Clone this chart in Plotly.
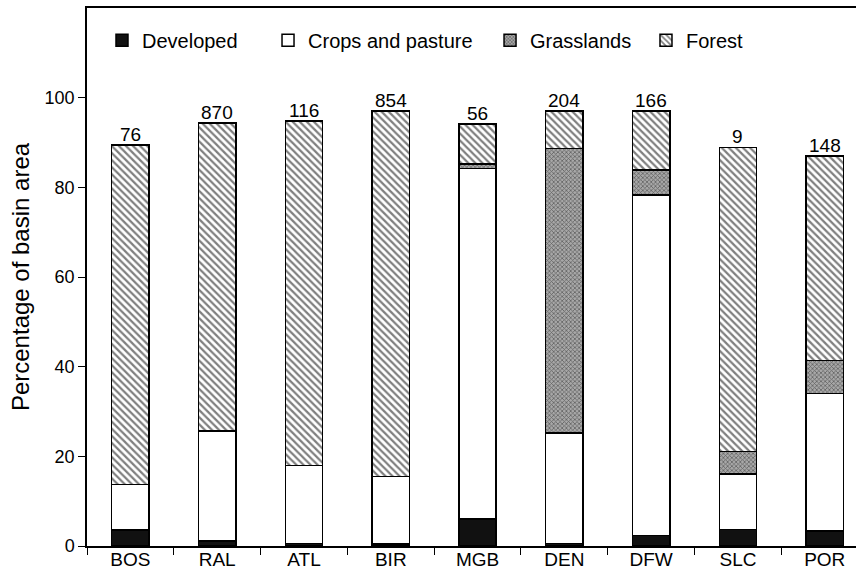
import plotly.graph_objects as go

sites = ["BOS", "RAL", "ATL", "BIR", "MGB", "DEN", "DFW", "SLC", "POR"]
developed = [3.6, 1.1, 0.6, 0.4, 6.0, 0.6, 2.3, 3.7, 3.4]
crops = [10.1, 24.5, 17.4, 15.1, 78.2, 24.6, 76.0, 12.4, 30.6]
grass = [0.0, 0.0, 0.0, 0.0, 1.0, 63.5, 5.6, 5.0, 7.4]
forest = [75.7, 68.8, 76.8, 81.5, 8.9, 8.3, 13.1, 67.8, 45.6]
site_counts = ["76", "870", "116", "854", "56", "204", "166", "9", "148"]

FONT = "Liberation Sans, Arial, sans-serif"
line = dict(color="black", width=1.5)
W = 0.43

fig = go.Figure()
fig.add_trace(go.Bar(name="Developed", x=sites, y=developed, width=W, legend="legend",
                     marker=dict(color="#111111", line=line)))
fig.add_trace(go.Bar(name="Crops and pasture", x=sites, y=crops, width=W, legend="legend2",
                     marker=dict(color="white", line=line)))
fig.add_trace(go.Bar(name="Grasslands", x=sites, y=grass, width=W, legend="legend3",
                     marker=dict(color="#9a9a9a", line=line,
                                 pattern=dict(shape="x", size=3, solidity=0.45,
                                              fgcolor="#1a1a1a", bgcolor="#a8a8a8"))))
fig.add_trace(go.Bar(name="Forest", x=sites, y=forest, width=W, legend="legend4",
                     marker=dict(color="white", line=line,
                                 pattern=dict(shape="\\", size=5, solidity=0.45,
                                              fgcolor="#000000", bgcolor="white"))))

totals = [d + c + g + f for d, c, g, f in zip(developed, crops, grass, forest)]
for s, t, lab in zip(sites, totals, site_counts):
    fig.add_annotation(x=s, y=t, text=lab, showarrow=False, yanchor="bottom",
                       yshift=-2, font=dict(family=FONT, size=19, color="black"))

def leg(x):
    return dict(orientation="h", x=x, xanchor="left", y=0.94, yanchor="middle",
                font=dict(family=FONT, size=20), bgcolor="rgba(0,0,0,0)", itemwidth=30)

fig.update_layout(
    width=856, height=572,
    barmode="stack",
    paper_bgcolor="white", plot_bgcolor="white",
    margin=dict(l=87, r=0, t=8, b=26, autoexpand=False),
    font=dict(family=FONT, size=18, color="black"),
    showlegend=True,
    legend=leg(0.0195), legend2=leg(0.2354), legend3=leg(0.5241), legend4=leg(0.7269),
    xaxis=dict(range=[-0.5, 8.36], showline=True, linecolor="black", linewidth=1.5,
               ticks="outside", ticklen=7, tickcolor="black", tickson="boundaries",
               mirror=True, showgrid=False, tickfont=dict(size=19), automargin=False,
               ticklabelstandoff=-5),
    yaxis=dict(range=[0, 120], tickvals=[0, 20, 40, 60, 80, 100], showline=True,
               linecolor="black", linewidth=1.5, ticks="outside", ticklen=7,
               tickcolor="black", showgrid=False, zeroline=False, automargin=False,
               title=dict(text="Percentage of basin area", font=dict(size=24), standoff=8),
               tickfont=dict(size=18)),
)

fig.write_html("out.html", config={"displayModeBar": False},
               post_script="document.body.style.margin='0';document.body.style.overflow='hidden';")
